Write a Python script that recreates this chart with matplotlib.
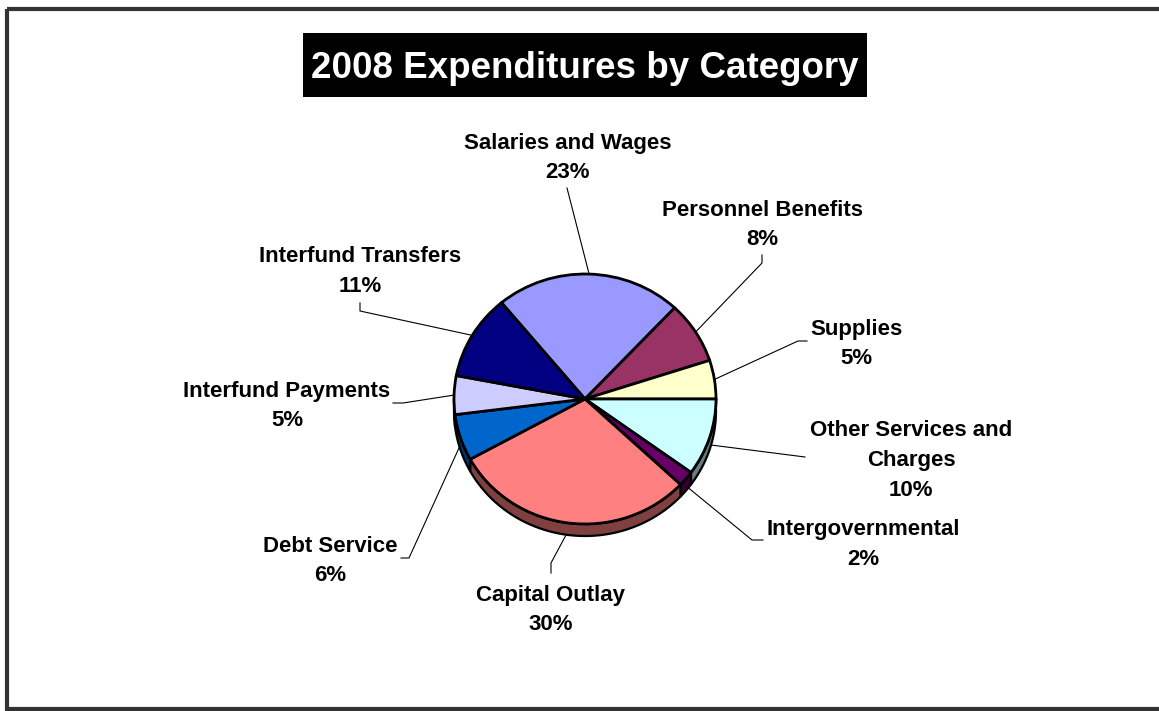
import matplotlib
matplotlib.use("Agg")
import matplotlib.pyplot as plt
from matplotlib.patches import Rectangle, Polygon
from matplotlib.colors import to_rgb
import numpy as np

plt.rcParams['font.family'] = ['Liberation Sans', 'DejaVu Sans']

# expenditure shares, clockwise from the top-left
categories = ['Salaries and Wages', 'Personnel Benefits', 'Supplies',
              'Other Services and\nCharges', 'Intergovernmental', 'Capital Outlay',
              'Debt Service', 'Interfund Payments', 'Interfund Transfers']
shares = [23, 8, 5, 10, 2, 30, 6, 5, 11]
colors = ['#9999FF', '#993366', '#FFFFCC', '#CCFFFF', '#660066',
          '#FF8080', '#0066CC', '#CCCCFF', '#000080']

# label placement (pixels): text centre of first line, leader elbow, leader end
label_xy = [(568, 140), (762, 207), (856, 326), (911, 428), (863, 527),
            (551, 592), (330, 543), (287, 388), (360, 254)]
leader_pts = [[(567, 188)],
              [(762, 263), (762, 255)],
              [(798, 341), (807, 341)],
              [(805, 457)],
              [(752, 540), (763, 540)],
              [(551, 563), (551, 573)],
              [(409, 558), (401, 558)],
              [(403, 403), (393, 403)],
              [(360, 311), (360, 303)]]

W, H = 1159, 711
cx, cy = 585, 399      # pie centre in pixels
rx, ry = 131, 125      # ellipse radii in pixels
depth = 12 / ry        # thickness of the pie, in pie-axes units

fig = plt.figure(figsize=(W / 100, H / 100), dpi=100)
ax = fig.add_axes([0, 0, 1, 1])
ax.set_xlim(0, W)
ax.set_ylim(H, 0)
ax.axis('off')

# outer frame
ax.add_patch(Rectangle((7, 9), W, 700, fill=False, edgecolor='#333333', lw=3))

# title on black band
ax.add_patch(Rectangle((303, 33), 564, 64, facecolor='black', edgecolor='none'))
ax.text(585, 68, '2008 Expenditures by Category', color='white', fontsize=26.5,
        fontweight='bold', ha='center', va='center')

# pie axes: unit circle stretched into an ellipse
xm, ytop, ybot = 1.1, 1.1, 1.2
pax = fig.add_axes([(cx - xm * rx) / W, (H - (cy + ybot * ry)) / H,
                    2 * xm * rx / W, (ytop + ybot) * ry / H])
total = sum(shares)
start = 360 * (shares[0] + shares[1] + shares[2]) / total
wedges, _ = pax.pie(shares, colors=colors, startangle=start, counterclock=False,
                    wedgeprops=dict(edgecolor='black', linewidth=2.0, zorder=3))
pax.set_aspect('auto')
pax.set_xlim(-xm, xm)
pax.set_ylim(-ybot, ytop)
pax.axis('off')

# side wall of the pie for the front half
for w, c in zip(wedges, colors):
    for lo, hi in [(-180, 0), (180, 360)]:
        a0, a1 = max(w.theta1, lo), min(w.theta2, hi)
        if a1 <= a0:
            continue
        t = np.radians(np.linspace(a0, a1, 80))
        xs, ys = np.cos(t), np.sin(t)
        pts = np.r_[np.c_[xs, ys], np.c_[xs[::-1], ys[::-1] - depth]]
        dark = tuple(0.5 * v for v in to_rgb(c))
        pax.add_patch(Polygon(pts, closed=True, facecolor=dark, edgecolor='black',
                              lw=1.6, zorder=2))

# leader lines and labels
to_px = pax.transData + ax.transData.inverted()
for w, name, v, (tx, ty), pts in zip(wedges, categories, shares, label_xy, leader_pts):
    mid = np.radians((w.theta1 + w.theta2) / 2)
    sx, sy = np.cos(mid), np.sin(mid)
    if sy < 0:
        sy -= 0.6 * depth
    p0 = to_px.transform((sx, sy))
    line = [tuple(p0)] + pts
    ax.plot([p[0] for p in line], [p[1] for p in line], color='black', lw=0.8, zorder=1)
    lines = name.split('\n') + ['%d%%' % v]
    for k, s in enumerate(lines):
        ax.text(tx, ty + 3 + 29.5 * k, s, fontsize=16, fontweight='bold',
                ha='center', va='center', color='black')

fig.savefig('out.png', dpi=100)
